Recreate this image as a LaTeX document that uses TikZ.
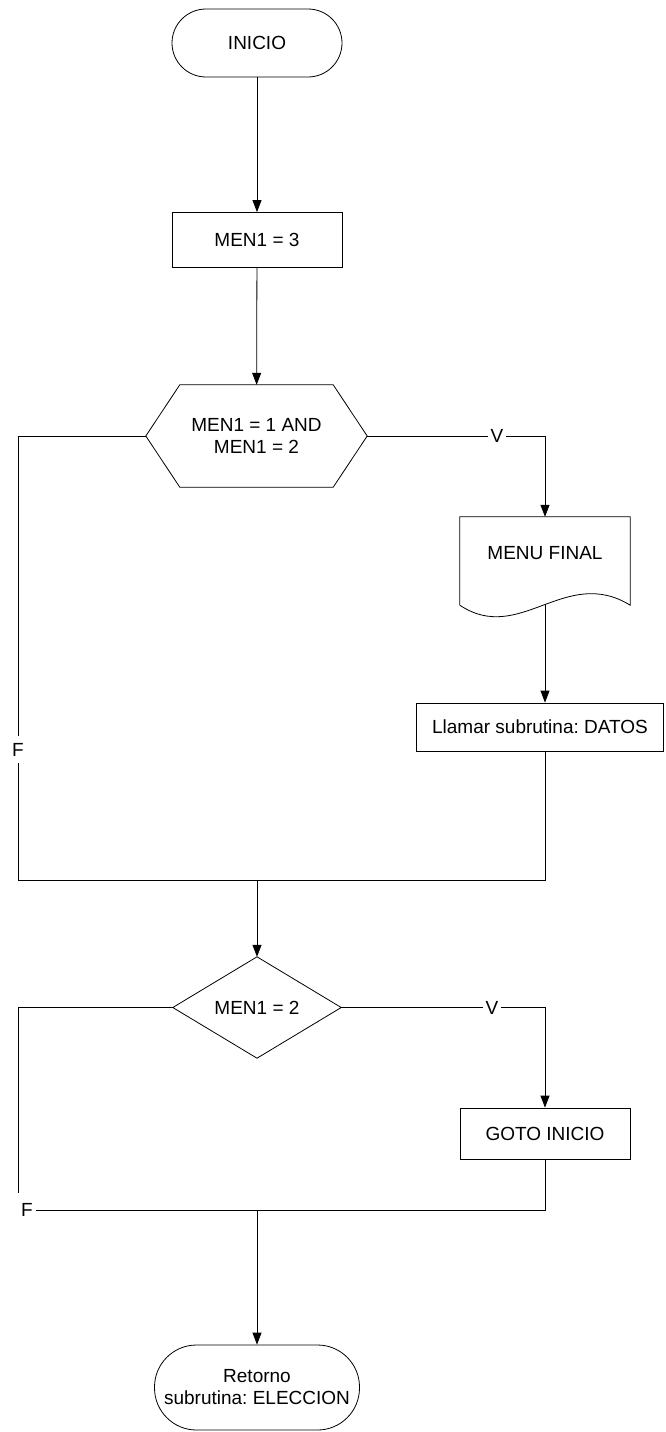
\documentclass[tikz,border=0pt]{standalone}
\usepackage{fontspec}
\setmainfont{Liberation Sans}
\usetikzlibrary{arrows.meta,calc}
\frenchspacing
\begin{document}
\begin{tikzpicture}[x=1pt,y=-1pt,
  every node/.style={font=\fontsize{19}{22}\selectfont, align=center, inner sep=0pt},
  flow/.style={draw=black, line width=0.8pt},
  arr/.style={flow, -{Triangle[length=12pt,width=9pt]}},
  term/.style={draw, line width=0.8pt, rounded corners=34pt, minimum width=170pt, minimum height=68pt},
  procbox/.style={draw, line width=0.8pt, minimum width=170pt},
  lbl/.style={fill=white, inner xsep=3pt, inner ysep=7pt}
]
\useasboundingbox (0,0) rectangle (665,1432);

% start terminal and initial assignment
\node[term] (start) at (257,43) {INICIO};
\node[procbox, minimum height=55pt] (set) at (257,240) {MEN1 = 3};

% first decision (hexagon)
\node[minimum width=221pt, minimum height=102pt] (dec1) at (256.5,436) {MEN1 = 1 AND\\MEN1 = 2};
\draw[flow] (dec1.west) -- ($(dec1.north west)+(34,0)$) -- ($(dec1.north east)+(-34,0)$)
  -- (dec1.east) -- ($(dec1.south east)+(-34,0)$) -- ($(dec1.south west)+(34,0)$) -- cycle;

% document shape for the final menu
\node[minimum width=170pt, minimum height=88pt] (menu) at (545,561) {};
\node (menutxt) at ($(menu.center)+(0,-8)$) {MENU FINAL};
\draw[flow] (menu.south west) -- (menu.north west) -- (menu.north east) -- (menu.south east)
  .. controls ($(menu.south east)+(-65,-40)$) and ($(menu.south west)+(60,40)$) .. (menu.south west);

% subroutine call
\node[procbox, minimum width=247pt, minimum height=48pt] (call) at (540,727) {Llamar subrutina: DATOS};

% second decision (diamond)
\node[minimum width=168pt, minimum height=101pt] (dec2) at (257,1007.5) {MEN1 = 2};
\draw[flow] (dec2.north) -- (dec2.east) -- (dec2.south) -- (dec2.west) -- cycle;

% jump back and end terminal
\node[procbox, minimum height=51pt] (go) at (545,1133.5) {GOTO INICIO};
\node[term, minimum width=205pt, minimum height=85pt, rounded corners=42pt] (end) at (257,1387.5) {Retorno\\subrutina: ELECCION};

% routing points
\coordinate (v1) at (545,436);
\coordinate (l1) at (18,436);
\coordinate (l1b) at (18,880);
\coordinate (r1b) at (545,880);
\coordinate (v2) at (545,1007.5);
\coordinate (l2) at (18,1007.5);
\coordinate (l2b) at (18,1193);
\coordinate (r2b) at (545,1210);
\node (f2) at (27,1210) {F};

% connectors
\draw[arr] (start) -- (set);
\draw[arr] (set) -- (dec1);
\draw[arr] (dec1.east) -- node[lbl, inner ysep=1pt, pos=0.73] {V} (v1) -- (menu.north);
\draw[arr] (menu.south) -- (call.north -| menu.south);
\draw[flow] (dec1.west) -- (l1) -- node[lbl, pos=0.707] {F} (l1b) -- (r1b) -- (r1b |- call.south);
\draw[arr] (dec2.north |- r1b) -- (dec2.north);
\draw[arr] (dec2.east) -- node[lbl, inner ysep=1pt, pos=0.74] {V} (v2) -- (go.north);
\draw[flow] (dec2.west) -- (l2) -- (l2b);
\draw[flow] ([xshift=3pt]f2.east) -- (r2b) -- (go.south);
\draw[arr] (end.north |- r2b) -- (end.north);
\end{tikzpicture}
\end{document}
